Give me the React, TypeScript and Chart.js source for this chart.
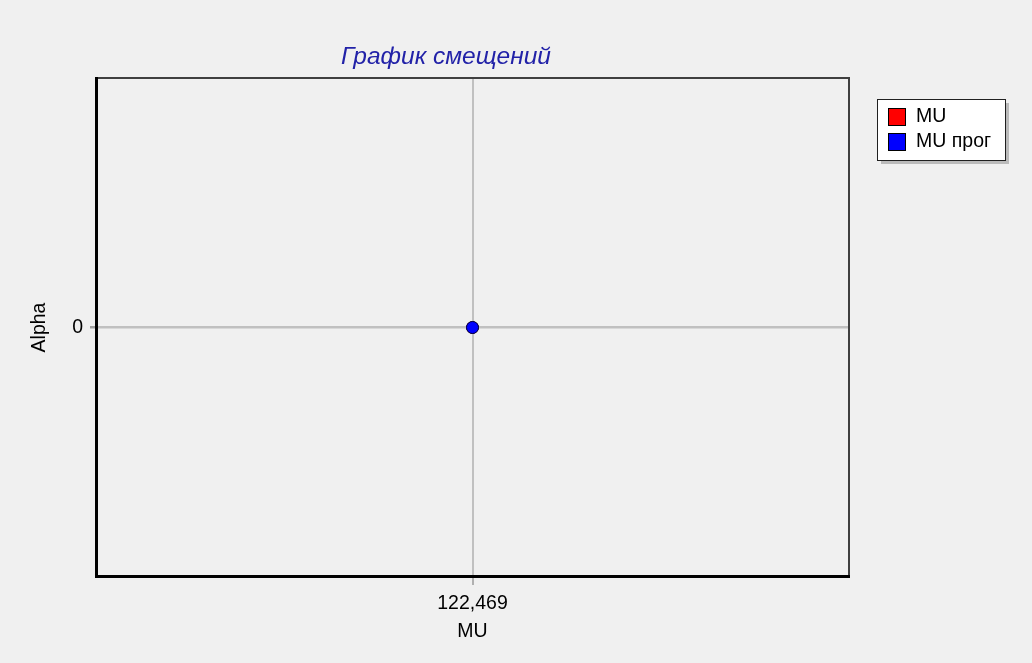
import React, { useEffect, useRef } from 'react';
import { Chart, registerables } from 'chart.js';

Chart.register(...registerables);

const chartTitle = 'График смещений';
const xAxisTitle = 'MU';
const yAxisTitle = 'Alpha';
const seriesLabels = ['MU', 'MU прог'];
const seriesColors = ['#ff0000', '#0000ff'];
const muX = [122.469];
const muY = [0];
const muProgX = [122.469];
const muProgY = [0];
const xTickValues = [122.469];
const yTickValues = [0];
const xRange = [121.469, 123.469];
const yRange = [-1, 1];

const FONT = '"Liberation Sans", Arial, sans-serif';

const decorPlugin = {
  id: 'decor',
  afterDraw(chart: any) {
    const { ctx, chartArea: a } = chart;
    ctx.save();
    // title
    ctx.font = `italic 24.5px ${FONT}`;
    ctx.fillStyle = '#2222a8';
    ctx.textAlign = 'center';
    ctx.textBaseline = 'middle';
    ctx.fillText(chartTitle, 446, 57);

    // frame: top/right thin dark gray
    ctx.strokeStyle = '#404040';
    ctx.lineWidth = 2;
    ctx.beginPath();
    ctx.moveTo(a.left, a.top - 1);
    ctx.lineTo(a.right + 1, a.top - 1);
    ctx.lineTo(a.right + 1, a.bottom);
    ctx.stroke();
    // left / bottom thick black
    ctx.fillStyle = '#000000';
    ctx.fillRect(a.left - 2, a.top - 2, 3, a.bottom - a.top + 4);
    ctx.fillRect(a.left - 2, a.bottom - 1, a.right - a.left + 4, 3);

    // legend
    const lx = 877, ly = 99, lw = 128, lh = 61;
    ctx.fillStyle = 'rgba(0,0,0,0.22)';
    ctx.fillRect(lx + 4, ly + 4, lw, lh);
    ctx.fillStyle = '#ffffff';
    ctx.fillRect(lx, ly, lw, lh);
    ctx.strokeStyle = '#202020';
    ctx.lineWidth = 1;
    ctx.strokeRect(lx + 0.5, ly + 0.5, lw, lh);
    ctx.font = `19.5px ${FONT}`;
    ctx.textAlign = 'left';
    ctx.textBaseline = 'middle';
    const ds = chart.data.datasets;
    ds.forEach((d: any, i: number) => {
      const cy = 117 + i * 25;
      ctx.fillStyle = d.backgroundColor;
      ctx.fillRect(888, cy - 9, 18, 18);
      ctx.strokeStyle = '#000000';
      ctx.strokeRect(888.5, cy - 8.5, 17, 17);
      ctx.fillStyle = '#000000';
      ctx.fillText(d.label, 916, cy);
    });
    ctx.restore();
  },
};

export default function App() {
  const ref = useRef<HTMLCanvasElement>(null);
  useEffect(() => {
    if (!ref.current) return;
    const chart = new Chart(ref.current, {
      type: 'scatter',
      data: {
        datasets: [
          {
            label: seriesLabels[0],
            data: muX.map((x, i) => ({ x, y: muY[i] })),
            backgroundColor: seriesColors[0],
            borderColor: '#400000',
            borderWidth: 1,
            pointRadius: 6,
            order: 1,
          },
          {
            label: seriesLabels[1],
            data: muProgX.map((x, i) => ({ x, y: muProgY[i] })),
            backgroundColor: seriesColors[1],
            borderColor: '#000050',
            borderWidth: 1,
            pointRadius: 6,
            order: 0,
          },
        ],
      },
      options: {
        animation: false,
        responsive: false,
        maintainAspectRatio: false,
        layout: { padding: { top: 79, right: 184, left: 0, bottom: 0 } },
        plugins: {
          legend: { display: false },
          title: { display: false },
          tooltip: { enabled: false },
        },
        scales: {
          x: {
            type: 'linear',
            min: xRange[0],
            max: xRange[1],
            afterBuildTicks: (s: any) => {
              s.ticks = xTickValues.map((v) => ({ value: v }));
            },
            afterFit: (s: any) => {
              s.height = 87;
            },
            ticks: {
              callback: (v: any) => Number(v).toFixed(3).replace('.', ','),
              color: '#000000',
              font: { family: FONT, size: 19.5 },
              padding: 7,
              maxRotation: 0,
            },
            grid: { color: '#c0c0c0', lineWidth: 2, tickLength: 9, tickColor: '#b0b0b0' },
            border: { display: false },
            title: {
              display: true,
              text: xAxisTitle,
              color: '#000000',
              font: { family: FONT, size: 19.5 },
              padding: { top: 0, bottom: 20 },
            },
          },
          y: {
            type: 'linear',
            min: yRange[0],
            max: yRange[1],
            afterBuildTicks: (s: any) => {
              s.ticks = yTickValues.map((v) => ({ value: v }));
            },
            afterFit: (s: any) => {
              s.width = 97;
            },
            ticks: {
              color: '#000000',
              font: { family: FONT, size: 19.5 },
              padding: 7,
            },
            grid: { color: '#c0c0c0', lineWidth: 2.5, tickLength: 7, tickColor: '#a0a0a0' },
            border: { display: false },
            title: {
              display: true,
              text: yAxisTitle,
              color: '#000000',
              font: { family: FONT, size: 19.5 },
              padding: { top: 28, bottom: 0 },
            },
          },
        },
      },
      plugins: [decorPlugin],
    });
    return () => chart.destroy();
  }, []);
  return (
    <div style={{ position: 'fixed', left: 0, top: 0, width: 1032, height: 663, background: '#f0f0f0' }}>
      <canvas ref={ref} width={1032} height={663} style={{ display: 'block' }} />
    </div>
  );
}
